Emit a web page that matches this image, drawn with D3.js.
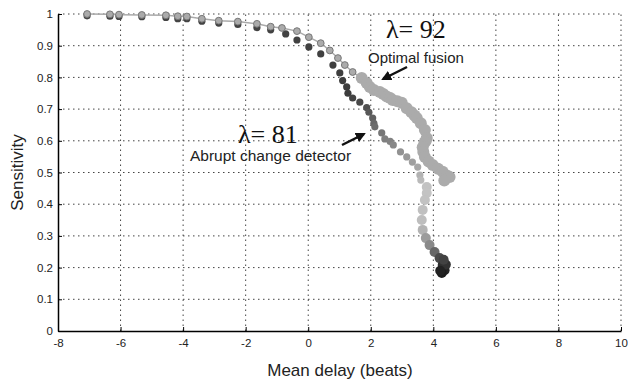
<!DOCTYPE html>
<html>
<head>
<meta charset="utf-8">
<script src="https://cdn.jsdelivr.net/npm/d3@7"></script>
<style>
  body { margin: 0; background: #fff; }
  svg { display: block; }
</style>
</head>
<body>
<div id="chart"></div>
<script>
// tick values
const xTicks = [-8, -6, -4, -2, 0, 2, 4, 6, 8, 10];
const yTicks = [0, 0.1, 0.2, 0.3, 0.4, 0.5, 0.6, 0.7, 0.8, 0.9, 1];

// abrupt change detector (mean delay, sensitivity)
const abruptDelay = [-7.07, -6.34, -6.05, -5.32, -4.55, -4.17, -3.88, -3.40, -2.86, -2.25,
  -1.64, -1.20, -0.72, -0.36, 0.02, 0.40, 0.79, 1.01, 1.10, 1.23,
  1.27, 1.42, 1.65, 1.87, 1.94, 2.06, 2.10, 2.13, 2.35, 2.45,
  2.62, 2.72, 2.95, 3.15, 3.33, 3.50, 3.57, 3.60, 3.79, 3.79,
  3.73, 3.66, 3.63, 3.66, 3.76, 3.88, 4.04, 4.20, 4.30, 4.36,
  4.27, 4.40, 4.22, 4.33];
const abruptSens = [0.999, 0.998, 0.997, 0.996, 0.994, 0.99, 0.99, 0.982, 0.976, 0.972,
  0.962, 0.95, 0.937, 0.918, 0.896, 0.874, 0.839, 0.814, 0.79, 0.77,
  0.75, 0.735, 0.722, 0.705, 0.69, 0.672, 0.655, 0.644, 0.625, 0.606,
  0.598, 0.587, 0.565, 0.549, 0.533, 0.517, 0.492, 0.476, 0.454, 0.435,
  0.413, 0.382, 0.35, 0.319, 0.293, 0.271, 0.249, 0.23, 0.208, 0.192,
  0.183, 0.21, 0.19, 0.225];

// optimal fusion
const fusionDelay = [-7.07, -6.34, -6.05, -5.32, -4.55, -4.17, -3.88, -3.40, -2.86, -2.25,
  -1.64, -1.20, -0.84, -0.36, 0.02, 0.40, 0.69, 0.95, 1.17, 1.42,
  1.71, 1.87, 1.97, 2.10, 2.29, 2.40, 2.51, 2.62, 2.70, 2.85,
  2.99, 3.15, 3.30, 3.40, 3.47, 3.60, 3.73, 3.79, 3.76, 3.72,
  3.66, 3.68, 3.73, 3.85, 3.98, 4.15, 4.30, 4.45, 4.52, 4.35];
const fusionSens = [1.0, 0.999, 0.998, 0.997, 0.996, 0.993, 0.992, 0.985, 0.979, 0.976,
  0.969, 0.96, 0.956, 0.946, 0.927, 0.908, 0.885, 0.861, 0.839, 0.817,
  0.798, 0.782, 0.77, 0.76, 0.754, 0.748, 0.74, 0.735, 0.729, 0.725,
  0.72, 0.703, 0.69, 0.68, 0.672, 0.655, 0.634, 0.609, 0.60, 0.595,
  0.58, 0.565, 0.549, 0.535, 0.524, 0.512, 0.502, 0.49, 0.486, 0.475];

const width = 628, height = 381;
const x = d3.scaleLinear().domain([-8, 10]).range([58, 621]);
const y = d3.scaleLinear().domain([0, 1]).range([331, 14]);

const svg = d3.select("#chart").append("svg")
    .attr("width", width)
    .attr("height", height)
    .style("font-family", "'Liberation Sans', Arial, sans-serif");

// dotted grid
const grid = svg.append("g")
    .attr("stroke", "#444")
    .attr("stroke-width", 1)
    .attr("stroke-dasharray", "1.5,3.5");
grid.selectAll("line.v").data(xTicks.slice(1)).join("line")
    .attr("class", "v")
    .attr("x1", d => x(d)).attr("x2", d => x(d))
    .attr("y1", y(0)).attr("y2", y(1));
grid.selectAll("line.h").data(yTicks.slice(1)).join("line")
    .attr("class", "h")
    .attr("x1", x(-8)).attr("x2", x(10))
    .attr("y1", d => y(d)).attr("y2", d => y(d));

// axes
const xAxis = svg.append("g")
    .attr("transform", "translate(0," + y(0) + ")")
    .call(d3.axisBottom(x).tickValues(xTicks).tickFormat(d => String(d))
      .tickSizeInner(-4).tickSizeOuter(0).tickPadding(8));
const yAxis = svg.append("g")
    .attr("transform", "translate(" + x(-8) + ",0)")
    .call(d3.axisLeft(y).tickValues(yTicks).tickFormat(d => String(+d.toFixed(1)))
      .tickSizeInner(-4).tickSizeOuter(0).tickPadding(5));
[xAxis, yAxis].forEach(a => {
  a.select(".domain").attr("stroke", "#000").attr("stroke-width", 1.5);
  a.selectAll(".tick line").attr("stroke", "#000");
  a.selectAll(".tick text").attr("fill", "#222").style("font-size", "11.5px")
    .style("font-family", "'Liberation Sans', Arial, sans-serif");
});

const fusion = fusionDelay.map((d, i) => ({ x: d, y: fusionSens[i] }));
const abrupt = abruptDelay.map((d, i) => ({ x: d, y: abruptSens[i] }));

// fusion line
svg.append("path")
    .datum(fusion)
    .attr("fill", "none")
    .attr("stroke", "#aaa")
    .attr("stroke-width", 1.5)
    .attr("d", d3.line().x(d => x(d.x)).y(d => y(d.y)));

// abrupt change detector markers, shade by sensitivity
const shade = d3.scaleLinear()
    .domain([0.18, 0.22, 0.27, 0.33, 0.45, 0.55, 0.65, 0.75, 1])
    .range(["#1a1a1a", "#3a3a3a", "#888", "#bdbdbd", "#c4c4c4", "#999", "#6a6a6a", "#3c3c3c", "#444"]);

svg.append("g").selectAll("circle")
    .data(abrupt).join("circle")
    .attr("cx", d => x(d.x))
    .attr("cy", d => y(d.y) + (d.y > 0.95 ? 1.5 : 0))
    .attr("r", d => d.y < 0.46 ? 5 : 3.6)
    .attr("fill", d => shade(d.y));

// optimal fusion markers
svg.append("g").selectAll("circle")
    .data(fusion).join("circle")
    .attr("cx", d => x(d.x))
    .attr("cy", d => y(d.y))
    .attr("r", d => d.y < 0.8 ? 6 : 3.4)
    .attr("fill", "#ababab")
    .attr("stroke", d => d.y < 0.8 ? "none" : "#777")
    .attr("stroke-width", 1);

// annotations
const serif = "'Liberation Serif', 'Times New Roman', serif";
svg.append("text").attr("x", 386).attr("y", 38)
    .style("font-family", serif).style("font-size", "26px").attr("fill", "#111")
    .text("λ= 92");
svg.append("text").attr("x", 368).attr("y", 63)
    .style("font-size", "15px").attr("fill", "#222")
    .text("Optimal fusion");
svg.append("text").attr("x", 238).attr("y", 143)
    .style("font-family", serif).style("font-size", "26px").attr("fill", "#111")
    .text("λ= 81");
svg.append("text").attr("x", 190).attr("y", 161)
    .style("font-size", "15.5px").attr("fill", "#222")
    .text("Abrupt change detector");

svg.append("defs").append("marker")
    .attr("id", "head")
    .attr("viewBox", "0 0 10 10")
    .attr("refX", 8).attr("refY", 5)
    .attr("markerWidth", 4).attr("markerHeight", 4)
    .attr("orient", "auto")
  .append("path").attr("d", "M0,0L10,5L0,10Z").attr("fill", "#111");

const arrows = [[407, 67, 383, 79], [342, 145, 364, 134]];
svg.append("g").selectAll("line").data(arrows).join("line")
    .attr("x1", d => d[0]).attr("y1", d => d[1])
    .attr("x2", d => d[2]).attr("y2", d => d[3])
    .attr("stroke", "#111").attr("stroke-width", 2.5)
    .attr("marker-end", "url(#head)");

// axis titles
svg.append("text")
    .attr("transform", "translate(23," + y(0.5) + ") rotate(-90)")
    .attr("text-anchor", "middle")
    .style("font-size", "17px").attr("fill", "#222")
    .text("Sensitivity");
svg.append("text")
    .attr("x", 340).attr("y", 376)
    .attr("text-anchor", "middle")
    .style("font-size", "17px").attr("fill", "#222")
    .text("Mean delay (beats)");
</script>
</body>
</html>
